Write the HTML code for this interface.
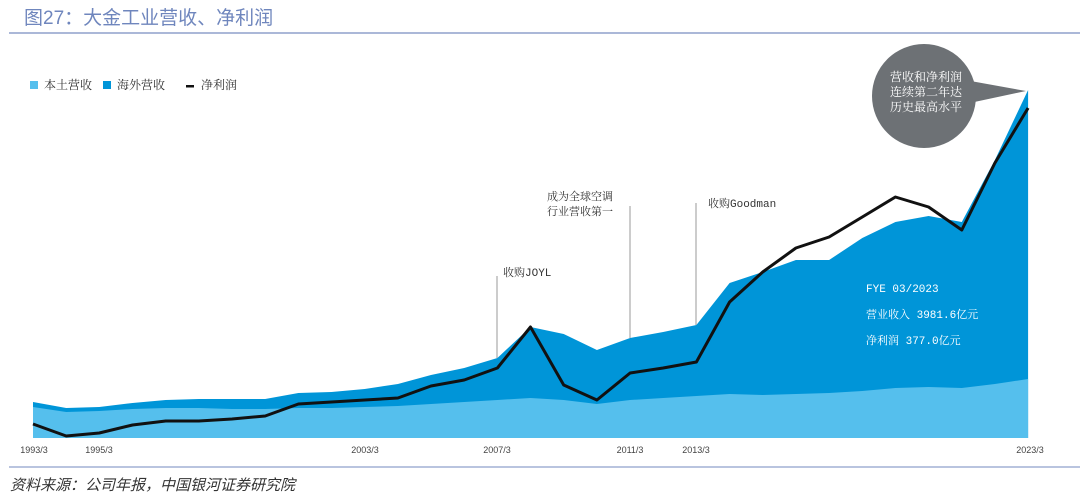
<!DOCTYPE html>
<html><head><meta charset="utf-8"><style>
body{margin:0;width:1080px;height:498px;background:#fff;overflow:hidden;font-family:"Liberation Serif","Noto Serif CJK SC",serif}
</style></head><body>
<svg id="s" width="1080" height="498" xmlns="http://www.w3.org/2000/svg">
<text x="24" y="24" font-size="19" fill="#6f86bd" font-family="Liberation Sans,Noto Sans CJK SC,sans-serif">图27：大金工业营收、净利润</text>
<line x1="9" y1="33" x2="1080" y2="33" stroke="#8fa0cc" stroke-width="1.5"/>
<rect x="30" y="81" width="8" height="8" fill="#55bfed"/>
<text x="44" y="89" font-size="12" fill="#333">本土营收</text>
<rect x="103" y="81" width="8" height="8" fill="#0095d8"/>
<text x="117" y="89" font-size="12" fill="#333">海外营收</text>
<rect x="186" y="85" width="8" height="2.5" fill="#111"/>
<text x="201" y="89" font-size="12" fill="#333">净利润</text>
<path id="tot" fill="#0095d8"/>
<path id="dom" fill="#55bfed"/>
<path id="np" fill="none" stroke="#111" stroke-width="3" stroke-linejoin="round"/>
<g stroke="#999" stroke-width="1">
<line x1="497" y1="276" x2="497" y2="358"/>
<line x1="630" y1="206" x2="630" y2="338"/>
<line x1="696" y1="203" x2="696" y2="325"/>
</g>
<g font-size="11" fill="#333" font-family="Liberation Mono,Noto Serif CJK SC,monospace">
<text x="503" y="276">收购JOYL</text>
<text x="547" y="200">成为全球空调</text>
<text x="547" y="215">行业营收第一</text>
<text x="708" y="207">收购Goodman</text>
</g>
<g font-size="11" fill="#fff" font-family="Liberation Mono,Noto Serif CJK SC,monospace">
<text x="866" y="292">FYE 03/2023</text>
<text x="866" y="318">营业收入 3981.6亿元</text>
<text x="866" y="344">净利润 377.0亿元</text>
</g>
<circle cx="924" cy="96" r="52" fill="#6d7175"/>
<polygon points="965,80 1026,91 965,104" fill="#6d7175"/>
<g font-size="12" fill="#fff" text-anchor="middle">
<text x="926" y="81">营收和净利润</text>
<text x="926" y="96">连续第二年达</text>
<text x="926" y="111">历史最高水平</text>
</g>
<g font-size="9" fill="#444" font-family="Liberation Sans,sans-serif" text-anchor="middle">
<text x="34" y="453">1993/3</text>
<text x="99" y="453">1995/3</text>
<text x="365" y="453">2003/3</text>
<text x="497" y="453">2007/3</text>
<text x="630" y="453">2011/3</text>
<text x="696" y="453">2013/3</text>
<text x="1030" y="453">2023/3</text>
</g>
<line x1="9" y1="467" x2="1080" y2="467" stroke="#8fa0cc" stroke-width="1.2"/>
<text x="10" y="490" font-size="15" fill="#333" font-style="italic" font-family="Liberation Sans,Noto Sans CJK SC,sans-serif">资料来源：公司年报，中国银河证券研究院</text>
</svg>
<script>
var tot=[402,408,407,403,400,399,399,399,393,392,389,384,375,368,358,327,334,350,338,332,325,283,272,260,260,238,222,216,222,160,90];
var dom=[407,412,411,409,408,408,409,409,408,408,407,406,404,402,400,398,400,404,400,398,396,394,395,394,393,391,388,387,388,384,379];
var np=[424,436,433,425,421,421,419,416,404,402,400,398,386,380,368,327,385,400,373,368,362,302,272,248,237,217,197,207,230,163,108];
function X(i){return 33+i*33.17}
function area(a){var d="M33,438";a.forEach(function(v,i){d+=" L"+X(i).toFixed(1)+","+v});return d+" L"+X(a.length-1).toFixed(1)+",438Z"}
document.getElementById("tot").setAttribute("d",area(tot));
document.getElementById("dom").setAttribute("d",area(dom));
var d="";np.forEach(function(v,i){d+=(i?" L":"M")+X(i).toFixed(1)+","+v});
document.getElementById("np").setAttribute("d",d);
</script>
</body></html>
